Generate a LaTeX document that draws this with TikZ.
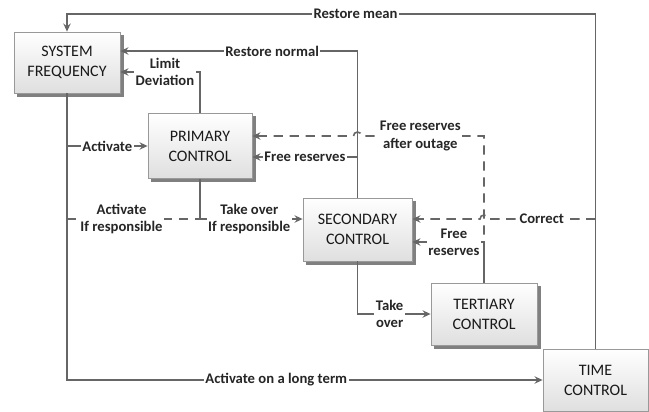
\documentclass[tikz,border=0pt]{standalone}
\usepackage{fontspec}
\setmainfont{Carlito}
\usetikzlibrary{arrows.meta, positioning, backgrounds, calc}

\begin{document}
\begin{tikzpicture}[x=0.75pt, y=0.75pt, >={Stealth[length=6pt, width=5.5pt]},
  block/.style={draw=gray!80, line width=0.6pt, top color=white, bottom color=gray!25,
    align=center, font=\fontsize{12}{15}\selectfont, text=black!90, inner sep=1pt},
  link/.style={draw=black!60, line width=1.2pt},
  gap/.style={link, dashed, dash pattern=on 7pt off 5pt},
  lbl/.style={fill=white, inner sep=1.2pt, align=center,
    font=\bfseries\fontsize{11}{13}\selectfont, text=black!85}]
  \useasboundingbox (0,0) rectangle (649,-411);

  \node[block, minimum width=79.5pt, minimum height=45.75pt] (sysf) at (67,-62.5) {SYSTEM\\FREQUENCY};
  \node[block, minimum width=78pt, minimum height=48.75pt] (prim) at (200,-146) {PRIMARY\\CONTROL};
  \node[block, minimum width=81.75pt, minimum height=47.25pt] (sec) at (357.5,-229.5) {SECONDARY\\CONTROL};
  \node[block, minimum width=79.5pt, minimum height=46.5pt] (ter) at (484,-314) {TERTIARY\\CONTROL};
  \node[block, minimum width=78.75pt, minimum height=46.5pt] (time) at (595.5,-380) {TIME\\CONTROL};

  \begin{scope}[on background layer]
    \foreach \n in {sysf,prim,sec,ter,time}
      \fill[black!50] ($(\n.south west)+(2.5pt,-2.5pt)$) rectangle ($(\n.north east)+(2.5pt,-2.5pt)$);
  \end{scope}

  \coordinate (rm) at (67,-14);
  \coordinate (tk) at ($(sec.west)+(0,10.5)$);
  \coordinate (cr) at ($(sec.east)+(0,10.5)$);
  \coordinate (fs) at ($(sec.east)+(0,-12.5)$);
  \coordinate (fr) at ($(prim.east)+(0,-11)$);
  \coordinate (fo) at ($(prim.east)+(0,10)$);

  \draw[link,->] (time.north) |- node[lbl, pos=0.727] {Restore mean} (rm) -- (sysf.north);
  \draw[link,->] (sec.north) |- node[lbl, pos=0.68] {Restore normal} ($(sysf.east)+(0,11.5)$);
  \draw[link,->] (prim.north) |- node[lbl, pos=0.72] {Limit\\Deviation} ($(sysf.east)+(0,-9.5)$);
  \draw[link,->] (sysf.south |- prim.west) -- node[lbl] {Activate} (prim.west);
  \draw[link,->] (sysf.south) |- node[lbl, pos=0.72] {Activate on a long term} (time.west);
  \draw[gap] (sysf.south |- tk) -- node[lbl, pos=0.41] {Activate\\If responsible} (prim.south |- tk);
  \draw[link,->] (prim.south) |- node[lbl, pos=0.74] {Take over\\If responsible} (tk);
  \draw[link,->] (sec.north |- fr) -- node[lbl] {Free reserves} (fr);
  \draw[link,->] (ter.north) |- node[lbl, pos=0.71] {Free\\reserves} (fs);
  \draw[gap,->] (ter.north) |- node[lbl, pos=0.76] {Free reserves\\after outage} ($(sec.north |- fo)+(4,0)$)
    arc[start angle=0, end angle=180, radius=3pt] -- (fo);
  \draw[gap,->] (time.north |- cr) -- node[lbl, pos=0.5] {Correct} ($(ter.north |- cr)+(4,0)$)
    arc[start angle=0, end angle=180, radius=3pt] -- (cr);
  \draw[link,->] (sec.south) |- node[lbl, pos=0.72] {Take\\over} (ter.west);
\end{tikzpicture}
\end{document}
